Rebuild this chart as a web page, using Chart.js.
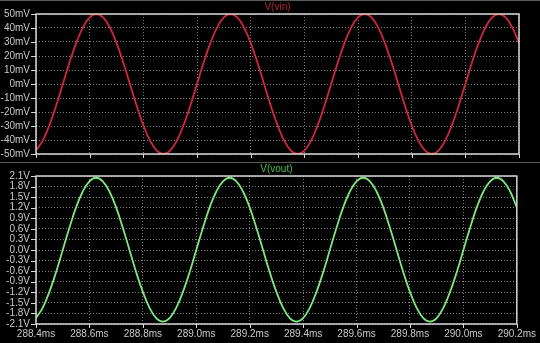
<!DOCTYPE html>
<html>
<head>
<meta charset="utf-8">
<script src="https://cdn.jsdelivr.net/npm/chart.js@4.4.0/dist/chart.umd.min.js"></script>
<style>
  html, body { margin: 0; padding: 0; background: #000; }
  #wrap { position: relative; width: 540px; height: 343px; background: #000; overflow: hidden; }
  canvas { position: absolute; left: 0; }
  #topCanvas { top: 0; }
  #botCanvas { top: 160px; }
</style>
</head>
<body>
<div id="wrap">
  <canvas id="topCanvas" width="540" height="166"></canvas>
  <canvas id="botCanvas" width="540" height="183"></canvas>
</div>
<script>
// ── data ─────────────────────────────────────────────────
const time = [
  288.400, 288.425, 288.450, 288.475, 288.500, 288.525, 288.550, 288.575, 288.600, 288.625,
  288.650, 288.675, 288.700, 288.725, 288.750, 288.775, 288.800, 288.825, 288.850, 288.875,
  288.900, 288.925, 288.950, 288.975, 289.000, 289.025, 289.050, 289.075, 289.100, 289.125,
  289.150, 289.175, 289.200, 289.225, 289.250, 289.275, 289.300, 289.325, 289.350, 289.375,
  289.400, 289.425, 289.450, 289.475, 289.500, 289.525, 289.550, 289.575, 289.600, 289.625,
  289.650, 289.675, 289.700, 289.725, 289.750, 289.775, 289.800, 289.825, 289.850, 289.875,
  289.900, 289.925, 289.950, 289.975, 290.000, 290.025, 290.050, 290.075, 290.100, 290.125,
  290.150, 290.175, 290.200
];

// V(vin) in mV
const vin = [
  -47.6, -40.5, -29.4, -15.5, 0.0, 15.5, 29.4, 40.5, 47.6, 50.0,
  47.6, 40.5, 29.4, 15.5, 0.0, -15.5, -29.4, -40.5, -47.6, -50.0,
  -47.6, -40.5, -29.4, -15.5, 0.0, 15.5, 29.4, 40.5, 47.6, 50.0,
  47.6, 40.5, 29.4, 15.5, 0.0, -15.5, -29.4, -40.5, -47.6, -50.0,
  -47.6, -40.5, -29.4, -15.5, 0.0, 15.5, 29.4, 40.5, 47.6, 50.0,
  47.6, 40.5, 29.4, 15.5, 0.0, -15.5, -29.4, -40.5, -47.6, -50.0,
  -47.6, -40.5, -29.4, -15.5, 0.0, 15.5, 29.4, 40.5, 47.6, 50.0,
  47.6, 40.5, 29.4
];

// V(vout) in V
const vout = [
  -1.93, -1.64, -1.19, -0.63, 0.00, 0.63, 1.21, 1.66, 1.95, 2.05,
  1.95, 1.66, 1.21, 0.63, 0.00, -0.63, -1.19, -1.64, -1.93, -2.03,
  -1.93, -1.64, -1.19, -0.63, 0.00, 0.63, 1.21, 1.66, 1.95, 2.05,
  1.95, 1.66, 1.21, 0.63, 0.00, -0.63, -1.19, -1.64, -1.93, -2.03,
  -1.93, -1.64, -1.19, -0.63, 0.00, 0.63, 1.21, 1.66, 1.95, 2.05,
  1.95, 1.66, 1.21, 0.63, 0.00, -0.63, -1.19, -1.64, -1.93, -2.03,
  -1.93, -1.64, -1.19, -0.63, 0.00, 0.63, 1.21, 1.66, 1.95, 2.05,
  1.95, 1.66, 1.21
];

// tick labels
const timeTicks = [288.4, 288.6, 288.8, 289.0, 289.2, 289.4, 289.6, 289.8, 290.0, 290.2];
const vinTicks  = [-50, -40, -30, -20, -10, 0, 10, 20, 30, 40, 50];
const voutTicks = [-2.1, -1.8, -1.5, -1.2, -0.9, -0.6, -0.3, 0.0, 0.3, 0.6, 0.9, 1.2, 1.5, 1.8, 2.1];

// ── style ────────────────────────────────────────────────
const FONT = { family: "'Liberation Sans', Arial, sans-serif", size: 10 };
const TXT = '#c8c8c8';
const FRAME = '#d8d8d8';
const GRID = '#808080';

function fmtMs(v) { return v.toFixed(1) + 'ms'; }
function fmtMv(v) { return Math.round(v) + 'mV'; }
function fmtV(v)  { return (Math.abs(v) < 1e-9 ? 0 : v).toFixed(1) + 'V'; }

// frame, tick marks, title, separators
function paneDecor(title, titleColor, titleY, sepY) {
  return {
    id: 'paneDecor',
    afterDraw(chart) {
      const { ctx, chartArea: a, scales } = chart;
      ctx.save();
      if (sepY !== null) {
        ctx.strokeStyle = '#5a5a5a';
        ctx.lineWidth = 1;
        ctx.beginPath();
        ctx.moveTo(0, sepY + 0.5);
        ctx.lineTo(chart.width, sepY + 0.5);
        ctx.stroke();
      }
      ctx.strokeStyle = FRAME;
      ctx.lineWidth = 1.5;
      ctx.strokeRect(a.left, a.top, a.right - a.left, a.bottom - a.top);
      ctx.lineWidth = 1;
      ctx.beginPath();
      for (const t of scales.y.ticks) {
        const y = Math.round(scales.y.getPixelForValue(t.value)) + 0.5;
        ctx.moveTo(a.left - 5, y);
        ctx.lineTo(a.left, y);
      }
      for (const t of scales.x.ticks) {
        const x = Math.round(scales.x.getPixelForValue(t.value)) + 0.5;
        ctx.moveTo(x, a.bottom);
        ctx.lineTo(x, a.bottom + 4);
      }
      ctx.stroke();
      ctx.fillStyle = titleColor;
      ctx.font = `${FONT.size}px ${FONT.family}`;
      ctx.textAlign = 'center';
      ctx.textBaseline = 'middle';
      ctx.fillText(title, (a.left + a.right) / 2, titleY);
      ctx.restore();
    }
  };
}

function makePane(canvasId, series, color, yTicks, yFmt, opts) {
  return new Chart(document.getElementById(canvasId), {
    type: 'line',
    data: {
      datasets: [{
        data: series.map((v, i) => ({ x: time[i], y: v })),
        borderColor: color,
        borderWidth: 1.8,
        pointRadius: 0,
        tension: 0.4,
        fill: false
      }]
    },
    options: {
      responsive: false,
      animation: false,
      layout: { padding: { top: opts.padTop, right: 21, left: 0, bottom: 0 } },
      plugins: { legend: { display: false }, tooltip: { enabled: false } },
      scales: {
        x: {
          type: 'linear',
          min: timeTicks[0],
          max: timeTicks[timeTicks.length - 1],
          afterBuildTicks: ax => { ax.ticks = timeTicks.map(v => ({ value: v })); },
          afterFit: ax => { ax.height = opts.xHeight; },
          ticks: {
            display: opts.showX,
            color: TXT, font: FONT, padding: 4, maxRotation: 0, autoSkip: false,
            callback: v => fmtMs(v)
          },
          grid: { color: GRID, lineWidth: 1, drawTicks: false },
          border: { display: false, dash: [1, 2] }
        },
        y: {
          min: yTicks[0],
          max: yTicks[yTicks.length - 1],
          afterBuildTicks: ax => { ax.ticks = yTicks.map(v => ({ value: v })); },
          afterFit: ax => { ax.width = 36; },
          ticks: { color: TXT, font: FONT, padding: 6, autoSkip: false, callback: v => yFmt(v) },
          grid: { color: GRID, lineWidth: 1, drawTicks: false },
          border: { display: false, dash: [1, 2] }
        }
      }
    },
    plugins: [paneDecor(opts.title, opts.titleColor, opts.titleY, opts.sepY)]
  });
}

makePane('topCanvas', vin, '#d4283a', vinTicks, fmtMv, {
  padTop: 14, xHeight: 7, showX: false,
  title: 'V(vin)', titleColor: '#b3282e', titleY: 7, sepY: 0
});

makePane('botCanvas', vout, '#7ee87e', voutTicks, fmtV, {
  padTop: 16, xHeight: 19, showX: true,
  title: 'V(vout)', titleColor: '#44c04c', titleY: 9, sepY: 2
});
</script>
</body>
</html>
